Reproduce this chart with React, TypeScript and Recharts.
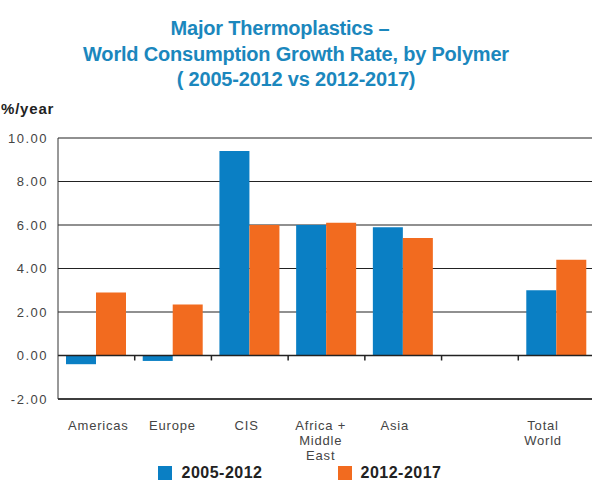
import React from 'react'
import { BarChart, Bar, XAxis, YAxis, CartesianGrid, ReferenceLine, Legend } from 'recharts'

// regions along the x axis; the empty slot keeps the gap before the world total
const regions = ['Americas', 'Europe', 'CIS', 'Africa +\nMiddle\nEast', 'Asia', '', 'Total\nWorld']
const growth2005to2012 = [-0.4, -0.25, 9.4, 6.0, 5.9, null, 3.0]
const growth2012to2017 = [2.9, 2.35, 6.0, 6.1, 5.4, null, 4.4]
const seriesNames = ['2005-2012', '2012-2017']
const yTicks = [-2, 0, 2, 4, 6, 8, 10]
const titleLines = [
  'Major Thermoplastics –',
  'World Consumption Growth Rate, by Polymer',
  '( 2005-2012 vs 2012-2017)',
]
const unitLabel = '%/year'

const BLUE = '#0a7fc4'
const ORANGE = '#f26b1f'
const TITLE_COLOR = '#1b87bd'
const FONT = '"Liberation Sans", Arial, Helvetica, sans-serif'

const chartData = regions.map((region, i) => ({
  region,
  early: growth2005to2012[i],
  late: growth2012to2017[i],
}))

function RegionTick({ x, y, payload, index }: any) {
  const lines = String(payload.value).split('\n')
  // labels sit a little left of their bar groups
  const tx = x + 2 - index * 2.6
  return (
    <text x={tx} y={y + 23} textAnchor="middle" fill="#444" fontSize={13} letterSpacing={0.8} fontFamily={FONT}>
      {lines.map((line, i) => (
        <tspan key={i} x={tx} dy={i === 0 ? 0 : 15}>
          {line}
        </tspan>
      ))}
    </text>
  )
}

// zero line with small ticks between the region groups
function ZeroAxis(props: any) {
  const { x1, x2, y1 } = props
  const band = (x2 - x1) / regions.length
  return (
    <g>
      <line x1={x1} x2={x2} y1={y1} y2={y1} stroke="#222" strokeWidth={1.5} />
      {regions.slice(1).map((_, i) => (
        <line
          key={i}
          x1={x1 + band * (i + 1)}
          x2={x1 + band * (i + 1)}
          y1={y1}
          y2={y1 + 5}
          stroke="#222"
          strokeWidth={1.5}
        />
      ))}
    </g>
  )
}

function LegendRow() {
  const colors = [BLUE, ORANGE]
  return (
    <div style={{ display: 'flex', justifyContent: 'center', gap: 75, fontFamily: FONT }}>
      {seriesNames.map((name, i) => (
        <div key={name} style={{ display: 'flex', alignItems: 'center' }}>
          <span style={{ width: 14, height: 14, background: colors[i], display: 'inline-block' }} />
          <span style={{ marginLeft: 9, fontWeight: 700, fontSize: 16, letterSpacing: 0.5, color: '#222' }}>
            {name}
          </span>
        </div>
      ))}
    </div>
  )
}

export default function App() {
  return (
    <div
      style={{
        position: 'absolute',
        left: 0,
        top: 0,
        width: 592,
        height: 501,
        overflow: 'hidden',
        background: '#fff',
        fontFamily: FONT,
      }}
    >
      <div
        style={{
          position: 'absolute',
          top: 16,
          left: 0,
          width: 592,
          textAlign: 'center',
          color: TITLE_COLOR,
          fontWeight: 700,
          fontSize: 20,
          lineHeight: '25.5px',
          letterSpacing: -0.2,
        }}
      >
        <div style={{ paddingRight: 32 }}>{titleLines[0]}</div>
        <div>{titleLines[1]}</div>
        <div>{titleLines[2]}</div>
      </div>
      <div
        style={{
          position: 'absolute',
          top: 100,
          left: 1,
          fontWeight: 700,
          fontSize: 15,
          letterSpacing: 0.8,
          color: '#222',
        }}
      >
        {unitLabel}
      </div>
      <BarChart
        width={600}
        height={501}
        data={chartData}
        barGap={0}
        margin={{ top: 138, right: 5, bottom: 72, left: 0 }}
      >
        <CartesianGrid vertical={false} stroke="#222" strokeWidth={1.2} />
        <XAxis
          dataKey="region"
          axisLine={{ stroke: '#222', strokeWidth: 1.5 }}
          tickLine={false}
          interval={0}
          height={30}
          tick={<RegionTick />}
        />
        <YAxis
          width={58}
          domain={[-2, 10]}
          ticks={yTicks}
          interval={0}
          tickFormatter={(v: number) => v.toFixed(2)}
          axisLine={{ stroke: '#333' }}
          tickLine={false}
          tickMargin={4}
          tick={{ fill: '#444', fontSize: 13, letterSpacing: 1.5, fontFamily: FONT }}
        />
        <Bar dataKey="early" name={seriesNames[0]} fill={BLUE} barSize={30} isAnimationActive={false} />
        <Bar dataKey="late" name={seriesNames[1]} fill={ORANGE} barSize={30} isAnimationActive={false} />
        <ReferenceLine y={0} shape={<ZeroAxis />} />
        <Legend
          verticalAlign="middle"
          align="center"
          wrapperStyle={{ top: 464, left: 0, width: 600 }}
          content={() => <LegendRow />}
        />
      </BarChart>
    </div>
  )
}
